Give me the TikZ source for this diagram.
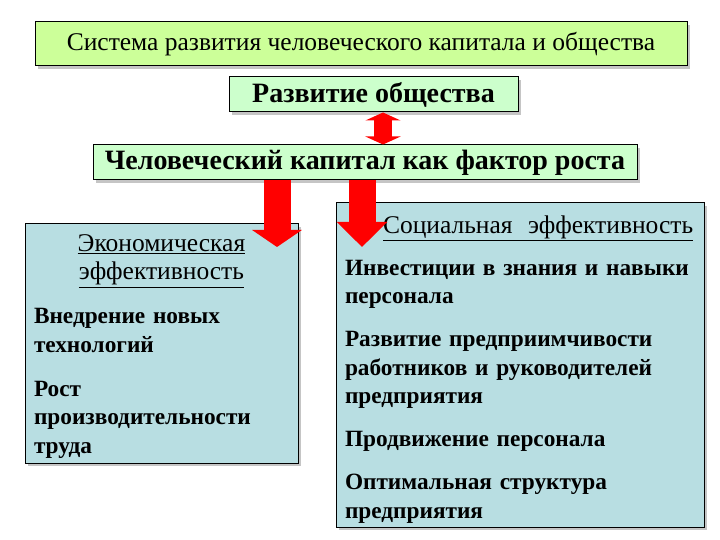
\documentclass[tikz,border=0pt]{standalone}
\usepackage{fontspec}
\setmainfont{Liberation Serif}
\usetikzlibrary{calc,shadows,arrows.meta}

\definecolor{lightlime}{RGB}{204,255,153}
\definecolor{mint}{RGB}{204,255,204}
\definecolor{paleblue}{RGB}{184,222,226}

\tikzset{
  frame/.style={draw=black, line width=1pt,
    drop shadow={shadow xshift=3pt, shadow yshift=-3pt, fill=black!45}},
  headbox/.style={frame, fill=mint, inner sep=0pt, font=\bfseries\fontsize{28}{32}\selectfont},
  listbox/.style={frame, fill=paleblue, inner xsep=9pt, inner ysep=0pt, align=left,
    font=\bfseries\fontsize{23.3}{28.5}\selectfont},
  bigarrow/.style={red, line width=27pt}
}
\newcommand{\boxhead}{\mdseries\fontsize{25.5}{29}\selectfont}

\begin{document}
\begin{tikzpicture}[x=1pt, y=-1pt]

\useasboundingbox (0,0) rectangle (720,540);

\node[frame, fill=lightlime, minimum width=652pt, minimum height=44pt,
  font=\fontsize{25.5}{29}\selectfont] (title) at (361,44)
  {Система развития человеческого капитала и общества};

\node[headbox, minimum width=289pt, minimum height=35pt] (society) at (373.5,94.5) {Развитие общества};

\node[headbox, minimum width=544pt, minimum height=35pt] (capital) at (365,162.5) {Человеческий капитал как фактор роста};

\node[listbox, minimum width=273pt, minimum height=239pt, text width=255pt] (econ) at (161.5,343.5)
  {\makebox[\hsize]{\rule{0pt}{23pt}\boxhead\underline{Экономическая}}\\
   \makebox[\hsize]{\boxhead\underline{эффективность}}\\[15.5pt]
   Внедрение новых\\ технологий\\[15.5pt]
   Рост\\ производительности\\ труда};

\node[listbox, minimum width=366pt, minimum height=324pt, text width=350pt] (social) at (520,365)
  {\rule{0pt}{27pt}\hspace*{38pt}{\boxhead\underline{Социальная\ \ эффективность}}\\[13pt]
   Инвестиции в знания и навыки\\ персонала\\[14.5pt]
   Развитие предприимчивости\\ работников и руководителей\\ предприятия\\[14.5pt]
   Продвижение персонала\\[14.5pt]
   Оптимальная структура\\ предприятия};

\coordinate (dbl) at (383,0);
\coordinate (econtip) at (277,247);
\coordinate (socialtip) at (362,247);

\draw[red, line width=18pt, {Triangle[width=35pt,length=8pt]}-{Triangle[width=35pt,length=8pt]}]
  (society.south -| dbl) -- (capital.north -| dbl);

\draw[bigarrow, -{Triangle[width=49pt,length=17pt]}] (capital.south -| econtip) -- (econtip);
\draw[bigarrow, -{Triangle[width=49pt,length=25pt]}] (capital.south -| socialtip) -- (socialtip);

\end{tikzpicture}
\end{document}
